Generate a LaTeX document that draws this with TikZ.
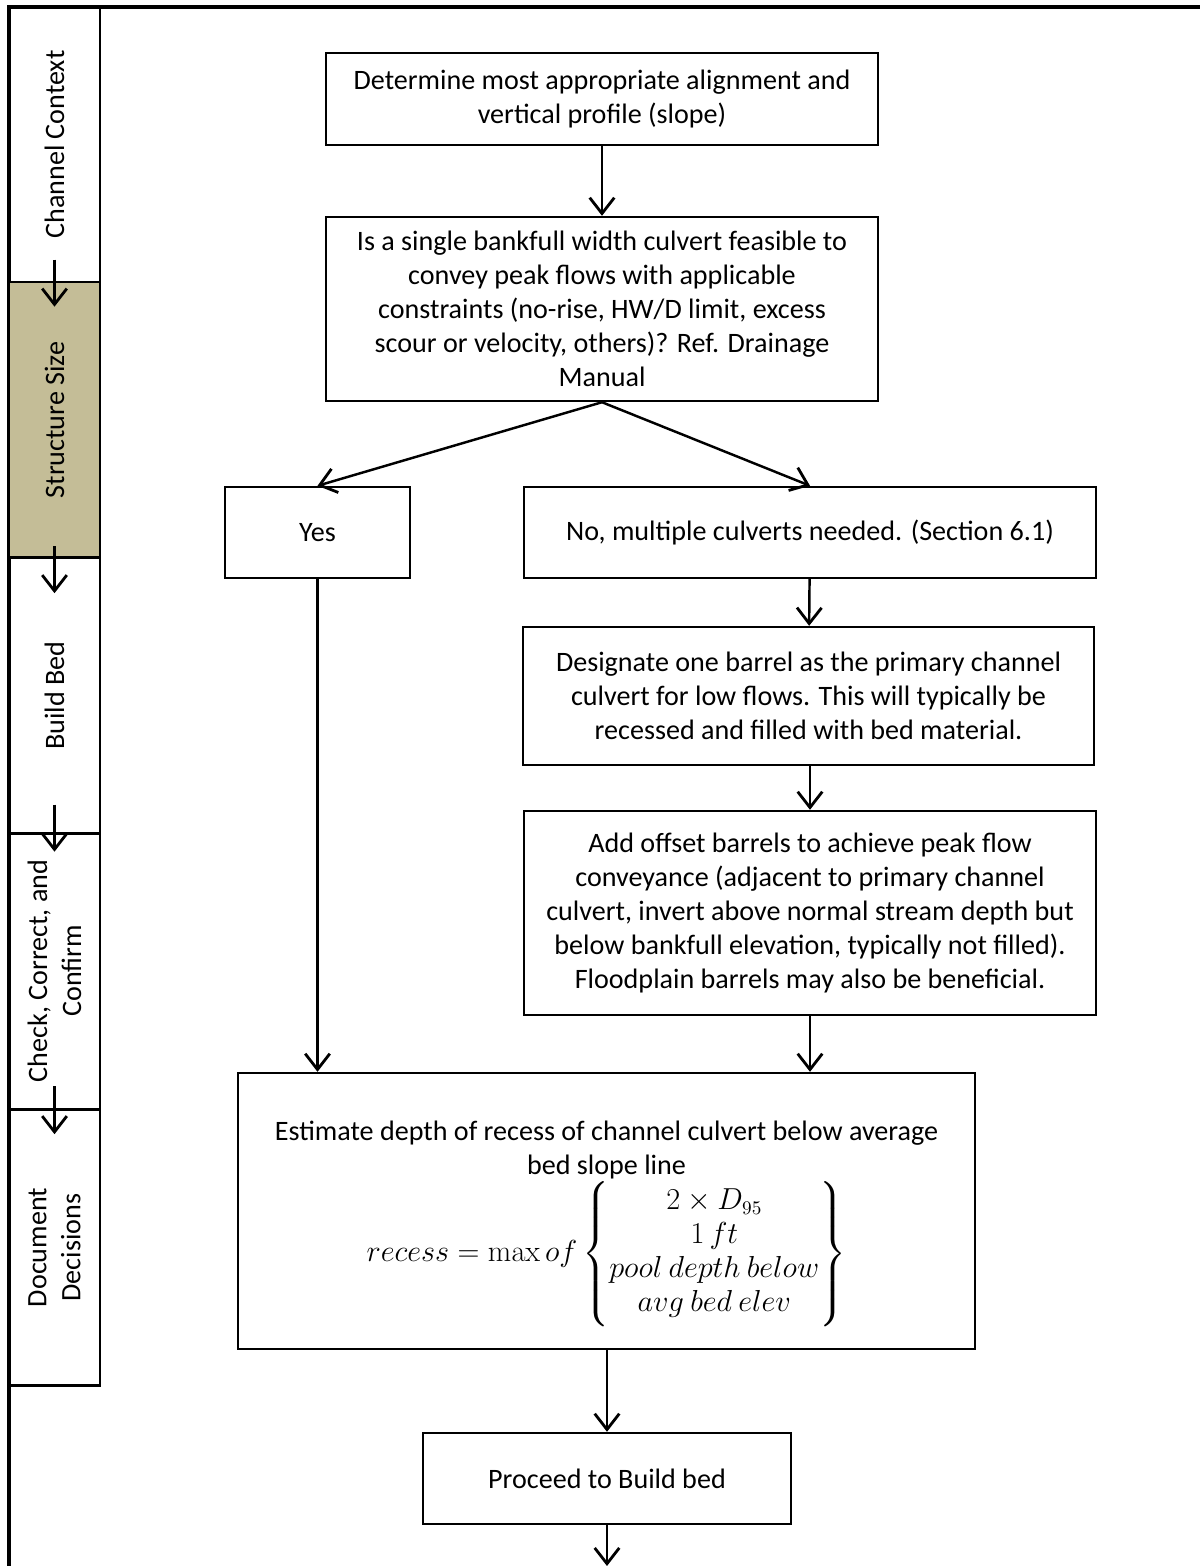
\documentclass[tikz,border=0pt]{standalone}
\usepackage[no-math]{fontspec}
\setmainfont{Carlito}
\usepackage{amsmath}
\usetikzlibrary{arrows.meta, positioning}
\definecolor{tan}{HTML}{C4BD97}

\begin{document}
\begin{tikzpicture}[x=0.02cm, y=-0.02cm, >={Straight Barb[length=9pt,width=14pt,line width=1.6pt]}, line width=1.4pt,
        box/.style={draw, line width=1.4pt, align=center, font=\fontsize{16}{19.4}\selectfont},
        lane/.style={draw, line width=1.4pt, rotate=90, align=center, minimum width=5.52cm, minimum height=1.82cm, font=\fontsize{16}{19.4}\selectfont}]
        \useasboundingbox (0,0) rectangle (1200,1566);
        \draw[line width=2.2pt] (1200,7) -- (9,7) -- (9,1566);
        \node[lane] (ctx) at (54.5,144.5) {Channel Context};
        \node[lane, fill=tan] (size) at (54.5,420) {Structure Size};
        \node[lane] (bed) at (54.5,695.5) {Build Bed};
        \node[lane] (check) at (54.5,971) {Check, Correct, and\\Confirm};
        \node[lane] (doc) at (54.5,1247.5) {Document\\Decisions};
        \draw[->] ([yshift=0.48cm]ctx.west) -- ([yshift=-0.46cm]ctx.west);
        \draw[->] ([yshift=0.26cm]size.west) -- ([yshift=-0.68cm]size.west);
        \draw[->] ([yshift=0.6cm]bed.west) -- ([yshift=-0.34cm]bed.west);
        \draw[->] ([yshift=0.48cm]check.west) -- ([yshift=-0.48cm]check.west);
        \node[box, minimum width=11.04cm, minimum height=1.84cm] (plan) at (602,99) {Determine most appropriate alignment and\\vertical profile (slope)};
        \node[box, minimum width=11.04cm, minimum height=3.68cm] (feas) at (602,309) {Is a single bankfull width culvert feasible to\\convey peak flows with applicable\\constraints (no-rise, HW/D limit, excess\\scour or velocity, others)? Ref. Drainage\\Manual};
        \node[box, minimum width=3.7cm, minimum height=1.82cm] (yes) at (317.5,532.5) {Yes};
        \node[box, minimum width=11.44cm, minimum height=1.82cm] (no) at (810,532.5) {No, multiple culverts needed. (Section 6.1)};
        \node[box, minimum width=11.42cm, minimum height=2.76cm] (desig) at (808.5,696) {Designate one barrel as the primary channel\\culvert for low flows. This will typically be\\recessed and filled with bed material.};
        \node[box, minimum width=11.44cm, minimum height=4.08cm] (offset) at (810,913) {Add offset barrels to achieve peak flow\\conveyance (adjacent to primary channel\\culvert, invert above normal stream depth but\\below bankfull elevation, typically not filled).\\Floodplain barrels may also be beneficial.};
        \node[box, minimum width=14.74cm, minimum height=5.52cm] (est) at (606.5,1211) {\rule{0pt}{26pt}Estimate depth of recess of channel culvert below average\\bed slope line\\$recess=\max of\left\{\begin{matrix}2\times D_{95}\\1\,ft\\pool\ depth\ below\\avg\ bed\ elev\end{matrix}\right\}$};
        \node[box, minimum width=7.36cm, minimum height=1.82cm] (proceed) at (607,1478.5) {Proceed to Build bed};
        \coordinate (next) at (607,1566);
        \draw[->] (plan) -- (feas);
        \draw[->] (feas.south) -- (yes.north);
        \draw[->] (feas.south) -- (no.north);
        \draw[->] (no) -- (desig);
        \draw[->] (desig.south -| offset.north) -- (offset);
        \draw[->] (yes.south) -- (yes.south |- est.north);
        \draw[->] (offset.south) -- (offset.south |- est.north);
        \draw[->] (est.south -| proceed.north) -- (proceed);
        \draw[->] (proceed) -- (next);
    \end{tikzpicture}
\end{document}
